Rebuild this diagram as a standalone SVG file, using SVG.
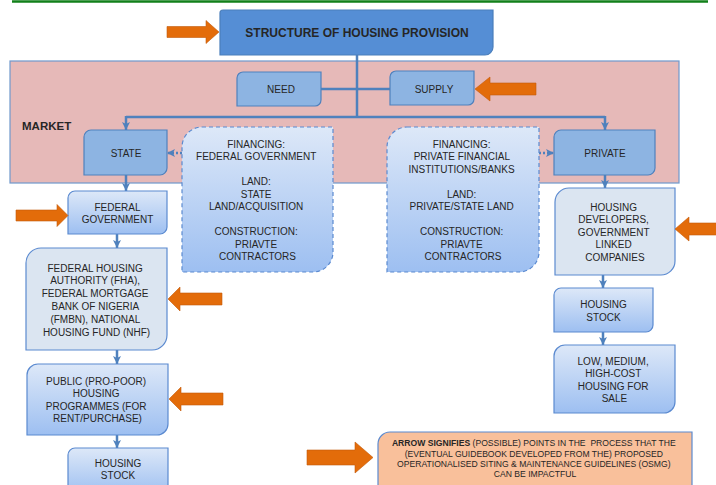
<svg xmlns="http://www.w3.org/2000/svg" width="716" height="485" viewBox="0 0 716 485">
<style>
text{font-family:"Liberation Sans",Arial,sans-serif;fill:#262626;text-anchor:middle}
.t{font-size:10px}
.lg{font-size:8.6px}
.b{font-weight:bold}
.dk{fill:#8db4e2;stroke:#4f81bd;stroke-width:1.2}
.gr{fill:url(#g);stroke:#5b8ad0;stroke-width:1.2}
.fl{fill:#dbe5f1;stroke:#5b8ad0;stroke-width:1.2}
.ds{fill:url(#g);stroke:#5b8ad0;stroke-width:1.2;stroke-dasharray:4 3}
.oa{fill:#e36c0a;stroke:#c25a0c;stroke-width:0.6}
.c{stroke:#4f81bd;stroke-width:2.5;fill:none}
.ca{stroke:#4f81bd;stroke-width:2.5;fill:none;marker-end:url(#ah)}
.cd{stroke:#4f81bd;stroke-width:2.5;fill:none;stroke-dasharray:2 2;marker-end:url(#ah)}
</style>
<defs>
<linearGradient id="g" x1="0" y1="0" x2="0" y2="1">
<stop offset="0" stop-color="#dde8f8"/>
<stop offset="1" stop-color="#9dbff1"/>
</linearGradient>
<marker id="ah" markerUnits="userSpaceOnUse" markerWidth="8" markerHeight="8" viewBox="0 0 8 8" refX="8" refY="4" orient="auto">
<path d="M0,0 L8,4 L0,8 L2,4 Z" fill="#4f81bd"/>
</marker>
</defs>
<rect width="716" height="485" fill="#ffffff"/>
<line x1="12" y1="1.5" x2="708" y2="1.5" stroke="#12801a" stroke-width="2.5"/>

<g id="market">
<rect x="10" y="61" width="669" height="122" fill="#e6b9b8" stroke="#6f98cc" stroke-width="1.2"/>
<text x="22" y="130" class="b" style="font-size:11.5px;text-anchor:start">MARKET</text>
</g>

<g id="connectors">
<line class="c" x1="357" y1="55" x2="357" y2="117"/>
<line class="c" x1="321" y1="89" x2="390" y2="89"/>
<line class="c" x1="126" y1="117" x2="605" y2="117"/>
<line class="ca" x1="126" y1="116" x2="126" y2="130"/>
<line class="ca" x1="605" y1="116" x2="605" y2="130"/>
<line class="ca" x1="126" y1="175" x2="126" y2="191"/>
<line class="ca" x1="117" y1="234" x2="117" y2="248"/>
<line class="ca" x1="117" y1="350" x2="117" y2="364"/>
<line class="ca" x1="117" y1="435" x2="117" y2="448"/>
<line class="ca" x1="605" y1="175" x2="605" y2="188"/>
<line class="ca" x1="603" y1="275" x2="603" y2="288"/>
<line class="ca" x1="603" y1="332" x2="603" y2="345"/>
<line class="cd" x1="182" y1="153" x2="167" y2="153"/>
<line class="cd" x1="539" y1="153" x2="554" y2="153"/>
</g>

<g id="title">
<path d="M223,10 H493 V47 A8,8 0 0 1 485,55 H220 V13 A3,3 0 0 1 223,10 Z" fill="#558ed5" stroke="#4a7ebb" stroke-width="1.2"/>
<text x="357" y="36.5" class="b" style="font-size:12px">STRUCTURE OF HOUSING PROVISION</text>
</g>
<g id="need">
<path class="dk" d="M243,72 H321 V100 A6,6 0 0 1 315,106 H237 V78 A6,6 0 0 1 243,72 Z"/>
<text x="281" y="92.5" class="t">NEED</text>
</g>
<g id="supply">
<path class="dk" d="M396,71 H474 V99 A6,6 0 0 1 468,105 H390 V77 A6,6 0 0 1 396,71 Z"/>
<text x="434" y="92.5" class="t">SUPPLY</text>
</g>
<g id="state">
<path class="dk" d="M91,130 H167 V168 A7,7 0 0 1 160,175 H84 V137 A7,7 0 0 1 91,130 Z"/>
<text x="126" y="156.5" class="t">STATE</text>
</g>
<g id="private">
<path class="dk" d="M561,130 H655 V168 A7,7 0 0 1 648,175 H554 V137 A7,7 0 0 1 561,130 Z"/>
<text x="605" y="156.5" class="t">PRIVATE</text>
</g>
<g id="financing-state">
<path class="ds" d="M202,127 H333 V252 A20,20 0 0 1 313,272 H182 V147 A20,20 0 0 1 202,127 Z"/>
<text class="t">
<tspan x="257.5" y="147.6">FINANCING:</tspan>
<tspan x="257.5" y="160.1">FEDERAL GOVERNMENT</tspan>
<tspan x="257.5" y="185.1">LAND:</tspan>
<tspan x="257.5" y="197.6">STATE</tspan>
<tspan x="257.5" y="210.1">LAND/ACQUISITION</tspan>
<tspan x="257.5" y="235.1">CONSTRUCTION:</tspan>
<tspan x="257.5" y="247.6">PRIAVTE</tspan>
<tspan x="257.5" y="260.1">CONTRACTORS</tspan>
</text>
</g>
<g id="financing-private">
<path class="ds" d="M407,127 H539 V252 A20,20 0 0 1 519,272 H387 V147 A20,20 0 0 1 407,127 Z"/>
<text class="t">
<tspan x="463" y="147.6">FINANCING:</tspan>
<tspan x="463" y="160.1">PRIVATE FINANCIAL</tspan>
<tspan x="463" y="172.6">INSTITUTIONS/BANKS</tspan>
<tspan x="463" y="197.6">LAND:</tspan>
<tspan x="463" y="210.1">PRIVATE/STATE LAND</tspan>
<tspan x="463" y="235.1">CONSTRUCTION:</tspan>
<tspan x="463" y="247.6">PRIAVTE</tspan>
<tspan x="463" y="260.1">CONTRACTORS</tspan>
</text>
</g>
<g id="federal-government">
<path class="gr" d="M75,191 H167 V227 A7,7 0 0 1 160,234 H68 V198 A7,7 0 0 1 75,191 Z"/>
<text class="t"><tspan x="117.5" y="210.6">FEDERAL</tspan><tspan x="117.5" y="223">GOVERNMENT</tspan></text>
</g>
<g id="fha">
<path class="fl" d="M41,248 H167 V335 A15,15 0 0 1 152,350 H26 V263 A15,15 0 0 1 41,248 Z"/>
<text class="t">
<tspan x="96.5" y="271.6">FEDERAL HOUSING</tspan>
<tspan x="96.5" y="284.4">AUTHORITY (FHA),</tspan>
<tspan x="96.5" y="297.2">FEDERAL MORTGAGE</tspan>
<tspan x="96.5" y="310">BANK OF NIGERIA</tspan>
<tspan x="96.5" y="322.8">(FMBN), NATIONAL</tspan>
<tspan x="96.5" y="335.6">HOUSING FUND (NHF)</tspan>
</text>
</g>
<g id="public-housing">
<path class="gr" d="M38,364 H168 V424 A11,11 0 0 1 157,435 H27 V375 A11,11 0 0 1 38,364 Z"/>
<text class="t">
<tspan x="97.5" y="384.6">PUBLIC (PRO-POOR)</tspan>
<tspan x="97.5" y="397.1">HOUSING</tspan>
<tspan x="97.5" y="409.6">PROGRAMMES (FOR</tspan>
<tspan x="97.5" y="422.1">RENT/PURCHASE)</tspan>
</text>
</g>
<g id="housing-stock-left">
<path class="gr" d="M75,448 H168 V488 A7,7 0 0 1 161,495 H68 V455 A7,7 0 0 1 75,448 Z"/>
<text class="t"><tspan x="118" y="466.6">HOUSING</tspan><tspan x="118" y="478.6">STOCK</tspan></text>
</g>
<g id="housing-developers">
<path class="fl" d="M569,188 H675 V261 A14,14 0 0 1 661,275 H555 V202 A14,14 0 0 1 569,188 Z"/>
<text class="t">
<tspan x="615" y="210.6">HOUSING</tspan>
<tspan x="615" y="223.1">DEVELOPERS,</tspan>
<tspan x="615" y="235.6">GOVERNMENT</tspan>
<tspan x="615" y="248.1">LINKED</tspan>
<tspan x="615" y="260.6">COMPANIES</tspan>
</text>
</g>
<g id="housing-stock-right">
<path class="gr" d="M561,288 H653 V325 A7,7 0 0 1 646,332 H554 V295 A7,7 0 0 1 561,288 Z"/>
<text class="t"><tspan x="603.5" y="307.6">HOUSING</tspan><tspan x="603.5" y="320.6">STOCK</tspan></text>
</g>
<g id="housing-for-sale">
<path class="gr" d="M565,345 H675 V402 A11,11 0 0 1 664,413 H554 V356 A11,11 0 0 1 565,345 Z"/>
<text class="t">
<tspan x="614.5" y="364.6">LOW, MEDIUM,</tspan>
<tspan x="614.5" y="377.1">HIGH-COST</tspan>
<tspan x="614.5" y="389.6">HOUSING FOR</tspan>
<tspan x="614.5" y="402.1">SALE</tspan>
</text>
</g>
<g id="legend">
<path d="M390,432 H692 V488 A12,12 0 0 1 680,500 H378 V444 A12,12 0 0 1 390,432 Z" fill="#f9c09b" stroke="#5b8ad0" stroke-width="1.2"/>
<text class="lg">
<tspan x="535" y="446.2"><tspan class="b">ARROW SIGNIFIES</tspan> (POSSIBLE) POINTS IN THE &#160;PROCESS THAT THE</tspan>
<tspan x="535" y="456.8">(EVENTUAL GUIDEBOOK DEVELOPED FROM THE) PROPOSED</tspan>
<tspan x="535" y="467.2">OPERATIONALISED SITING &amp; MAINTENANCE GUIDELINES (OSMG)</tspan>
<tspan x="535" y="477.4">CAN BE IMPACTFUL</tspan>
</text>
</g>

<g id="orange-arrows">
<polygon class="oa" points="167,26.5 206,26.5 206,20.5 219,32 206,43.5 206,37.5 167,37.5"/>
<polygon class="oa" points="475,89 490,77 490,83 536,83 536,95 490,95 490,101"/>
<polygon class="oa" points="16,210 57,210 57,204.5 68,215.5 57,226.5 57,221 16,221"/>
<polygon class="oa" points="168,299 180,287 180,293 222,293 222,305 180,305 180,311"/>
<polygon class="oa" points="169,399 181,387 181,393 223,393 223,405 181,405 181,411"/>
<polygon class="oa" points="675,229 689,217 689,223 718,223 718,235 689,235 689,241"/>
<polygon class="oa" points="307,450 355,450 355,442 373,457.5 355,473 355,465 307,465"/>
</g>
</svg>
